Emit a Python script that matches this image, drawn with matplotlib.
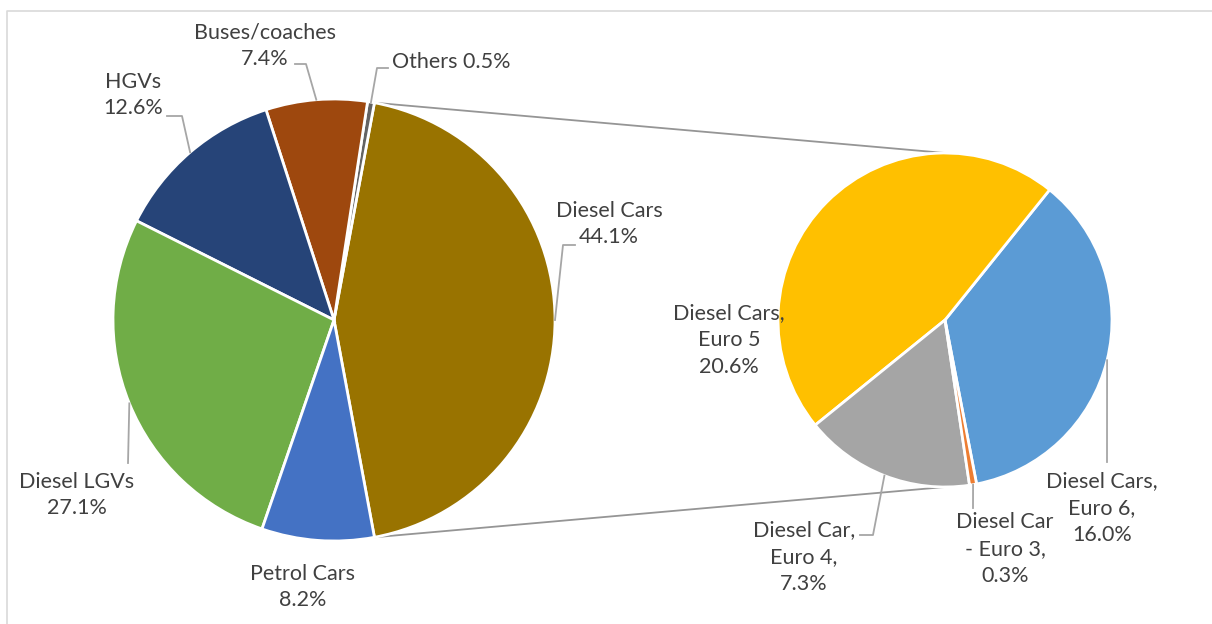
import numpy as np
import matplotlib
matplotlib.use("Agg")
import matplotlib.pyplot as plt

W, H = 1212, 624

# main pie: road transport emission shares (%)
main_labels = ["Diesel Cars", "Others", "Buses/coaches", "HGVs", "Diesel LGVs", "Petrol Cars"]
main_values = [44.1, 0.5, 7.4, 12.6, 27.1, 8.2]
main_colors = ["#997300", "#636363", "#9E480E", "#264478", "#70AD47", "#4472C4"]

# breakdown of diesel cars by Euro standard (%)
sub_labels = ["Diesel Cars,\nEuro 6,", "Diesel Cars,\nEuro 5", "Diesel Car,\nEuro 4,", "Diesel Car\n- Euro 3,"]
sub_values = [16.0, 20.6, 7.3, 0.3]
sub_colors = ["#5B9BD5", "#FFC000", "#A5A5A5", "#ED7D31"]

plt.rcParams["font.family"] = ["Lato", "DejaVu Sans"]
text_color = "#404040"
leader_color = "#A6A6A6"

fig = plt.figure(figsize=(W / 100, H / 100), dpi=100)
ax = fig.add_axes([0, 0, 1, 1])
ax.set_xlim(0, W)
ax.set_ylim(0, H)
ax.set_aspect("equal")
ax.axis("off")


def yy(y):
    # pixel rows counted from the top
    return H - y


c1, r1 = (334, yy(320)), 221
c2, r2 = (945, yy(320)), 167

start1 = -main_values[0] / sum(main_values) * 180
w1, _ = ax.pie(main_values, colors=main_colors, center=c1, radius=r1,
               startangle=start1, counterclock=True,
               wedgeprops=dict(edgecolor="white", linewidth=2))
w2, _ = ax.pie(sub_values, colors=sub_colors, center=c2, radius=r2,
               startangle=-79.1, counterclock=True,
               wedgeprops=dict(edgecolor="white", linewidth=2))
ax.set_xlim(0, W)
ax.set_ylim(0, H)


def rim(wedge, center, r, theta=None):
    if theta is None:
        theta = (wedge.theta1 + wedge.theta2) / 2
    t = np.deg2rad(theta)
    return center[0] + r * np.cos(t), center[1] + r * np.sin(t)


# connector lines between the diesel slice and the second pie
top = rim(w1[0], c1, r1, w1[0].theta2)
bot = rim(w1[0], c1, r1, w1[0].theta1)
ax.plot([top[0], c2[0]], [top[1], c2[1] + r2], color="#959595", lw=1.3, zorder=0)
ax.plot([bot[0], c2[0]], [bot[1], c2[1] - r2], color="#959595", lw=1.3, zorder=0)


def leader(wedge, center, r, pts):
    xs = [p[0] for p in pts]
    ys = [yy(p[1]) for p in pts]
    ex, ey = rim(wedge, center, r)
    ax.plot(xs + [ex], ys + [ey], color=leader_color, lw=1.3, zorder=3)


def label(x, y, s):
    ax.text(x, yy(y), s, ha="center", va="center", fontsize=15.5,
            color=text_color, linespacing=1.42)


fmt = lambda v: f"{v:.1f}%"

label(609, 224, f"{main_labels[0]}\n{fmt(main_values[0])}")
label(451, 62, f"{main_labels[1]} {fmt(main_values[1])}")
label(265, 46, f"{main_labels[2]}\n{fmt(main_values[2])}")
label(133, 95, f"{main_labels[3]}\n{fmt(main_values[3])}")
label(77, 495, f"{main_labels[4]}\n{fmt(main_values[4])}")
label(303, 587, f"{main_labels[5]}\n{fmt(main_values[5])}")

label(1102, 508, f"{sub_labels[0]}\n{fmt(sub_values[0])}")
label(729, 340, f"{sub_labels[1]}\n{fmt(sub_values[1])}")
label(804, 557, f"{sub_labels[2]}\n{fmt(sub_values[2])}")
label(1005, 549, f"{sub_labels[3]}\n{fmt(sub_values[3])}")

leader(w1[0], c1, r1, [(575, 245), (563, 245)])
leader(w1[1], c1, r1, [(388, 68), (377, 68)])
leader(w1[2], c1, r1, [(295, 64), (306, 64)])
leader(w1[3], c1, r1, [(167, 116), (182, 116)])
leader(w1[4], c1, r1, [(128, 463)])
leader(w2[0], c2, r2, [(1107, 462)])
leader(w2[2], c2, r2, [(860, 535), (873, 535)])
leader(w2[3], c2, r2, [(973, 508)])

# chart area border
ax.plot([7, 7, W + 5], [-5, yy(11), yy(11)], color="#D9D9D9", lw=1.2, zorder=0)

fig.savefig("out.png", dpi=100)
